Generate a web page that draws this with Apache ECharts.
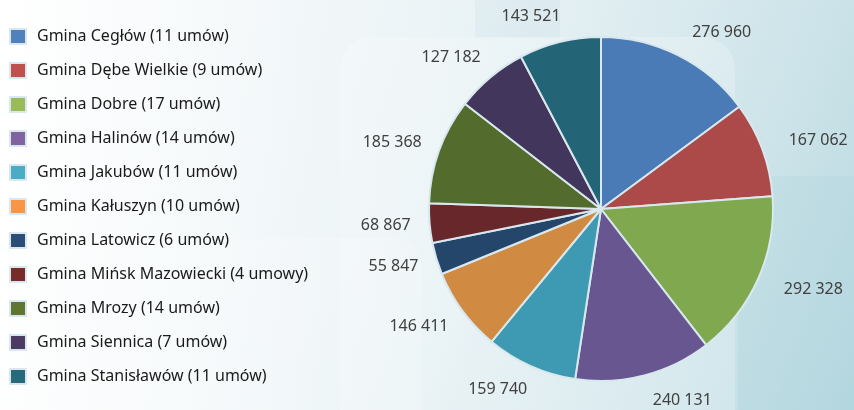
<!DOCTYPE html>
<html><head><meta charset="utf-8">
<script src="https://cdn.jsdelivr.net/npm/echarts@6/dist/echarts.min.js"></script>
<style>html,body{margin:0;padding:0;}#c{width:854px;height:410px;}</style>
</head><body><div id="c"></div>
<script>
const categories = ["Gmina Cegłów (11 umów)","Gmina Dębe Wielkie (9 umów)","Gmina Dobre (17 umów)","Gmina Halinów (14 umów)","Gmina Jakubów (11 umów)","Gmina Kałuszyn (10 umów)","Gmina Latowicz (6 umów)","Gmina Mińsk Mazowiecki (4 umowy)","Gmina Mrozy (14 umów)","Gmina Siennica (7 umów)","Gmina Stanisławów (11 umów)"];
const values = [276960,167062,292328,240131,159740,146411,55847,68867,185368,127182,143521];
const legendColors = ["#4F81BD","#C0504D","#9BBB59","#8064A2","#4BACC6","#F79646","#2C4D75","#772C2A","#5F7530","#4D3B62","#276A7C"];
const sliceColors = ["#4A7BB7","#AB4A49","#80A84F","#67568F","#3E9AB3","#D18A42","#24466B","#68272A","#536C2D","#43365C","#236577"];

function fmt(v){return String(v).replace(/\B(?=(\d{3})+(?!\d))/g,' ');}

const chart = echarts.init(document.getElementById('c'));
chart.setOption({
  animation:false,
  backgroundColor:{type:'linear',x:0,y:0,x2:1,y2:0,colorStops:[{offset:0,color:'#ffffff'},{offset:0.4,color:'#f2f7f9'},{offset:1,color:'#e0edf1'}]},
  graphic:[
    {type:'rect',shape:{x:0,y:0,width:854,height:410},style:{fill:{type:'linear',x:0,y:0,x2:1,y2:1,colorStops:[{offset:0,color:'rgba(255,255,255,0)'},{offset:0.45,color:'rgba(200,225,232,0.1)'},{offset:1,color:'rgba(150,200,210,0.55)'}]}},silent:true,z:-10},
    {type:'rect',shape:{x:475,y:0,width:85,height:38},style:{fill:'rgba(190,215,225,0.18)'},silent:true,z:-10},
    {type:'rect',shape:{x:340,y:37,width:395,height:420,r:32},style:{fill:'rgba(255,255,255,0.22)'},silent:true,z:-10},
    {type:'rect',shape:{x:0,y:238,width:422,height:200,r:30},style:{fill:'rgba(255,255,255,0.2)'},silent:true,z:-10},
    {type:'rect',shape:{x:738,y:176,width:116,height:234},style:{fill:'rgba(160,205,214,0.18)'},silent:true,z:-10}
  ],
  legend:{
    orient:'vertical',left:4,top:23,height:400,
    itemWidth:16,itemHeight:15,itemGap:17,icon:'rect',
    textStyle:{fontFamily:'Noto Sans',fontSize:16,lineHeight:15,color:'#1a1a1a',padding:[0,0,0,6]},
    data:categories.map((n,i)=>({name:n,itemStyle:{color:legendColors[i]}}))
  },
  series:[{
    type:'pie',
    center:[601,209],radius:172,
    startAngle:90,clockwise:true,
    avoidLabelOverlap:false,
    data:categories.map((n,i)=>({name:n,value:values[i],itemStyle:{color:sliceColors[i]}})),
    itemStyle:{borderColor:'#d8e8ee',borderWidth:2},
    label:{show:true,position:'outside',formatter:p=>fmt(p.value),fontFamily:'Noto Sans',fontSize:16,color:'#404040',distanceToLabelLine:2},
    labelLine:{show:false,length:26,length2:0},
    labelLayout:p=>({dx:p.align==='right'?9:0}),
    emphasis:{disabled:true}
  }]
});
</script></body></html>
